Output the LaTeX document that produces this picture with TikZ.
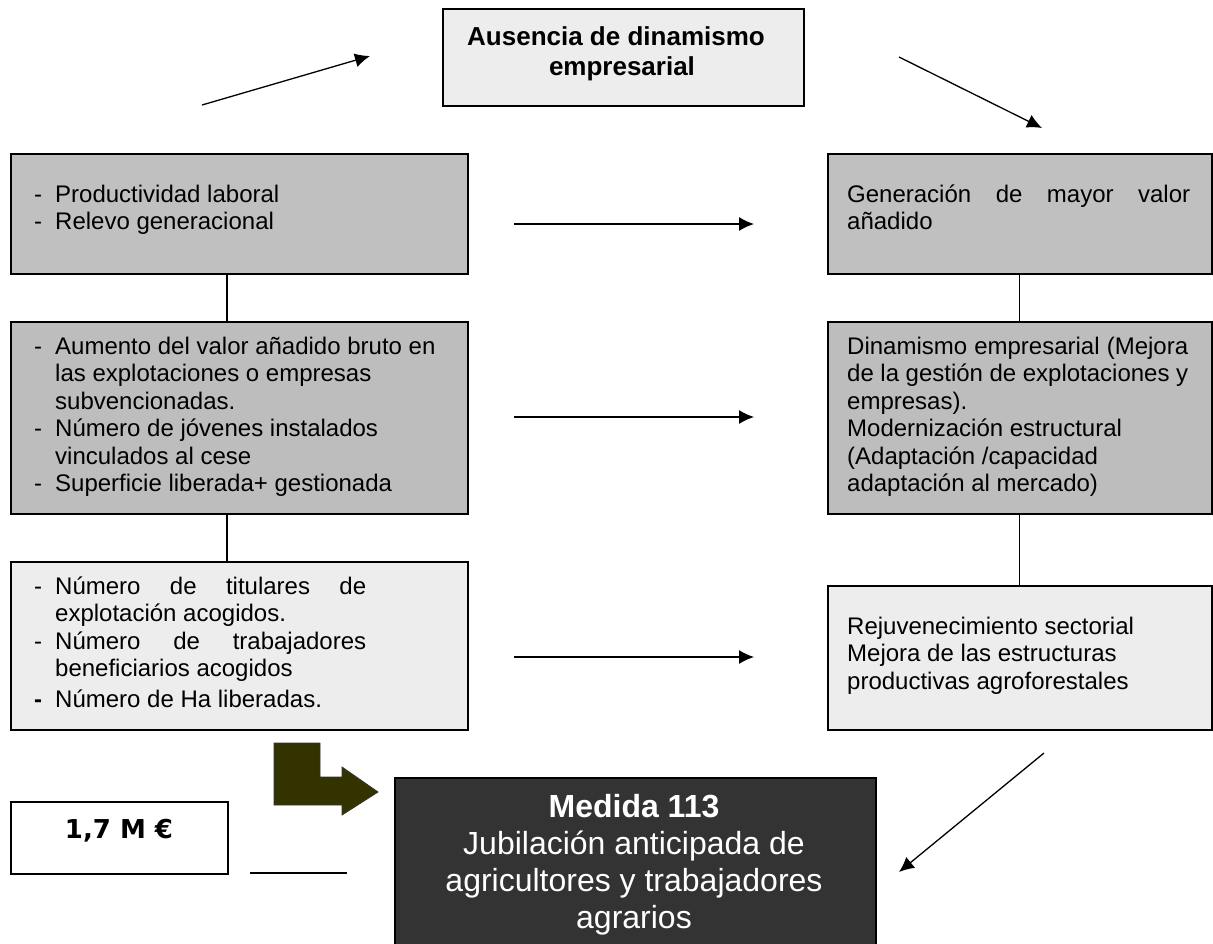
\documentclass[tikz,border=0pt]{standalone}
\usepackage{fontspec}
\setmainfont{Liberation Sans}
\newfontfamily\verdana{DejaVu Sans}
\usetikzlibrary{arrows.meta}
\definecolor{grisOsc}{HTML}{C0C0C0}
\definecolor{grisMed}{HTML}{BDBDBD}
\definecolor{grisCla}{HTML}{EDEDED}
\definecolor{fondo}{HTML}{333333}
\definecolor{oliva}{HTML}{333300}
\newcommand{\guion}{\makebox[21pt][l]{-}}
\newcommand{\sangria}{\hspace*{21pt}}

\begin{document}
\begin{tikzpicture}[x=1pt, y=-1pt,
    caja/.style={draw, line width=1.6pt, anchor=north west, inner sep=0pt},
    texto/.style={anchor=base west, align=left, inner sep=0pt, font=\fontsize{24}{27.5}\selectfont},
    flecha/.style={line width=1.3pt, -{Latex[length=15pt,width=14pt]}},
    enlace/.style={line width=1.3pt}]
        \useasboundingbox[fill=white] (0,0) rectangle (1213,943);
        \node[caja, fill=grisCla, minimum width=361pt, minimum height=97pt] (aus) at (442,8) {};
        \node[caja, fill=grisOsc, minimum width=457pt, minimum height=120pt] (prod) at (10,153) {};
        \node[caja, fill=grisOsc, minimum width=384pt, minimum height=120pt] (gen) at (827,153) {};
        \node[caja, fill=grisMed, minimum width=457pt, minimum height=192pt] (aum) at (10,321) {};
        \node[caja, fill=grisMed, minimum width=384pt, minimum height=192pt] (din) at (827,321) {};
        \node[caja, fill=grisCla, minimum width=457pt, minimum height=168pt] (num) at (10,561) {};
        \node[caja, fill=grisCla, minimum width=384pt, minimum height=144pt] (rej) at (827,585) {};
        \node[caja, fill=white, minimum width=217pt, minimum height=72pt] (eur) at (10,801) {};
        \node[caja, fill=fondo, minimum width=481pt, minimum height=180pt] (med) at (394,777) {};
        \coordinate (eje) at (227,0);
        \draw[enlace] (prod.south -| eje) -- (aum.north -| eje);
        \draw[enlace] (aum.south -| eje) -- (num.north -| eje);
        \draw[enlace] (gen.south) -- (din.north);
        \draw[enlace] (din.south) -- (rej.north);
        \node[texto, anchor=base, align=center, font=\bfseries\fontsize{26}{30}\selectfont] (ausT) at (622,75) {Ausencia de dinamismo\hspace*{12pt}\\ empresarial};
        \node[texto] (prodT) at (34,229.5) {\guion Productividad laboral\\ \guion Relevo generacional};
        \node[texto] (genT) at (847,229.5) {\makebox[343pt][s]{Generación de mayor valor}\\ añadido};
        \node[texto] (aumT) at (34,491.5) {\guion Aumento del valor añadido bruto en\\ \sangria las explotaciones o empresas\\ \sangria subvencionadas.\\ \guion Número de jóvenes instalados\\ \sangria vinculados al cese\\ \guion Superficie liberada+ gestionada};
        \node[texto] (dinT) at (847,491.5) {\makebox[341pt][s]{Dinamismo empresarial (Mejora}\\ \makebox[341pt][s]{de la gestión de explotaciones y}\\ empresas).\\ Modernización estructural\\ (Adaptación /capacidad\\ adaptación al mercado)};
        \node[texto] (numT) at (34,707) {\guion\makebox[311pt][s]{Número de titulares de}\\ \sangria explotación acogidos.\\ \guion\makebox[311pt][s]{Número de trabajadores}\\ \sangria beneficiarios acogidos\\[3pt] \textbf{\guion}Número de Ha liberadas.};
        \node[texto] (rejT) at (847,689) {Rejuvenecimiento sectorial\\ Mejora de las estructuras\\ productivas agroforestales};
        \node[anchor=base, inner sep=0pt, font=\verdana\bfseries\fontsize{26}{30}\selectfont] (eurT) at (119,838) {1,7 M €};
        \node[texto, anchor=base, align=center, text=white, font=\fontsize{32}{37}\selectfont] (medT) at (634,928) {\textbf{Medida 113}\\ Jubilación anticipada de\\ agricultores y trabajadores\\ agrarios};
        \coordinate (tl1) at (202,105); \coordinate (tl2) at (370,56);
        \coordinate (tr1) at (899,57); \coordinate (tr2) at (1042,128);
        \coordinate (br1) at (1044,753); \coordinate (br2) at (899,872);
        \coordinate (bl1) at (250,873); \coordinate (bl2) at (347,873);
        \foreach \n/\y in {1/224, 2/417, 3/657} {
            \coordinate (m\n a) at (514,\y); \coordinate (m\n b) at (754,\y);
            \draw[flecha] (m\n a) -- (m\n b);
        }
        \draw[flecha] (tl1) -- (tl2);
        \draw[flecha] (tr1) -- (tr2);
        \draw[flecha] (br1) -- (br2);
        \draw[enlace] (bl1) -- (bl2);
        \filldraw[fill=oliva, draw=black!80, line width=0.8pt] (274,743) -- (320,743) -- (320,777) -- (342,777) -- (342,767) -- (378,792) -- (342,815) -- (342,805) -- (274,805) -- cycle;
\end{tikzpicture}
\end{document}
